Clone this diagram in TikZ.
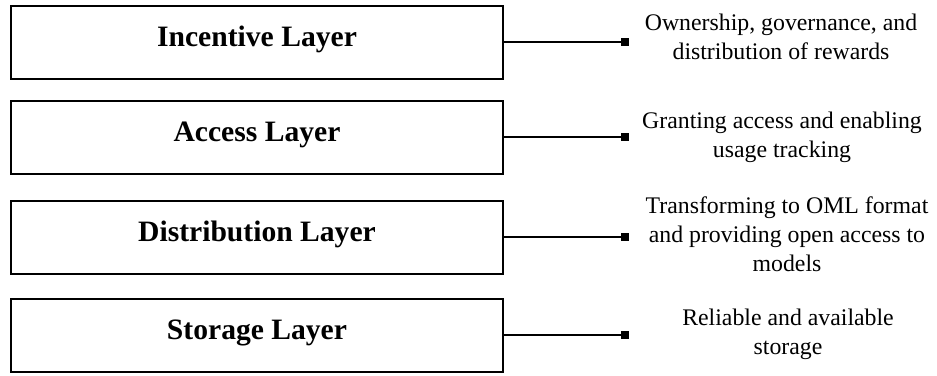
\documentclass[tikz,border=0pt]{standalone}
\usepackage{fontspec}
\setmainfont{Liberation Serif}
\usetikzlibrary{arrows.meta}
\begin{document}
\begin{tikzpicture}[x=1pt,y=-1pt,
  layerbox/.style={draw, line width=2pt, minimum width=492pt, minimum height=73pt,
    inner sep=0pt, font=\fontsize{29.6}{32}\selectfont\bfseries,
    text height=20pt, text depth=11pt},
  desc/.style={align=center, font=\fontsize{23.8}{29}\selectfont, inner sep=0pt},
  link/.style={line width=1.8pt, -{Square[length=8pt,width=8pt]}}]
\useasboundingbox (0,0) rectangle (937,375);

\node[layerbox] (inc) at (257,42.3) {Incentive Layer};
\node[layerbox] (acc) at (257,137.3) {Access Layer};
\node[layerbox] (dis) at (257,237.3) {Distribution Layer};
\node[layerbox] (sto) at (257,335) {Storage Layer};

\coordinate (incend) at (629,42.3);
\coordinate (accend) at (629,137.3);
\coordinate (disend) at (629,237.3);
\coordinate (stoend) at (629,335);

\draw[link] (inc.east) -- (incend);
\draw[link] (acc.east) -- (accend);
\draw[link] (dis.east) -- (disend);
\draw[link] (sto.east) -- (stoend);

\node[desc] (incd) at (781,36.9) {Ownership, governance, and\\distribution of rewards};
\node[desc] (accd) at (782,136.9) {Granting access and enabling\\usage tracking};
\node[desc] (disd) at (787,233.8) {Transforming to OML format\\and providing open access to\\models};
\node[desc] (stod) at (788,334) {Reliable and available\\storage};
\end{tikzpicture}
\end{document}
